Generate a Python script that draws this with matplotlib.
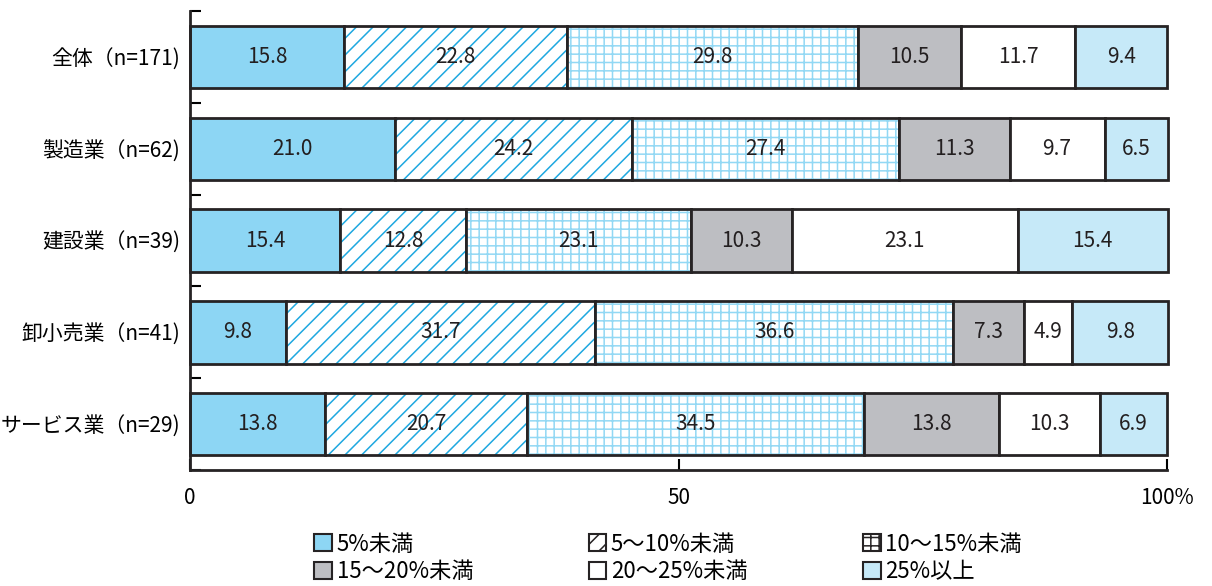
import numpy as np
import matplotlib.pyplot as plt
from matplotlib.patches import Patch

plt.rcParams['font.family'] = ['Noto Sans CJK JP', 'DejaVu Sans']
plt.rcParams['hatch.linewidth'] = 1.1

# Survey results by industry (percent)
categories = ['全体（n=171)', '製造業（n=62)', '建設業（n=39)', '卸小売業（n=41)', 'サービス業（n=29)']
series_names = ['5%未満', '5～10%未満', '10～15%未満', '15～20%未満', '20～25%未満', '25%以上']
values = np.array([
    [15.8, 22.8, 29.8, 10.5, 11.7, 9.4],
    [21.0, 24.2, 27.4, 11.3, 9.7, 6.5],
    [15.4, 12.8, 23.1, 10.3, 23.1, 15.4],
    [9.8, 31.7, 36.6, 7.3, 4.9, 9.8],
    [13.8, 20.7, 34.5, 13.8, 10.3, 6.9],
])
x_ticks = [0, 50, 100]
x_ticklabels = ['0', '50', '100%']

face_colors = ['#8dd6f4', 'white', 'white', '#bdbec2', 'white', '#c6e9f8']
hatch_colors = [None, '#1ea8e0', '#92d8f4', None, None, None]
hatches = [None, '//', '++', None, None, None]
outline = '#262324'

fig, ax = plt.subplots(figsize=(12.12, 5.86), dpi=100)
fig.subplots_adjust(left=0.1568, right=0.9629, bottom=0.198, top=0.981)

y = np.arange(len(categories))
left = np.zeros(len(categories))
handles = []
for j, name in enumerate(series_names):
    w = values[:, j]
    if hatches[j]:
        ax.barh(y, w, left=left, height=0.68, color=face_colors[j],
                edgecolor=hatch_colors[j], hatch=hatches[j], linewidth=0)
    else:
        ax.barh(y, w, left=left, height=0.68, color=face_colors[j], linewidth=0)
    ax.barh(y, w, left=left, height=0.68, fill=False, edgecolor=outline,
            linewidth=2, clip_on=False)
    for yi, (l, v) in enumerate(zip(left, w)):
        ax.text(l + v / 2, yi, f'{v:.1f}', ha='center', va='center',
                fontsize=15, color='#231f20')
    left += w
    handles.append(Patch(facecolor=face_colors[j], edgecolor=outline, linewidth=1.5,
                         hatch=hatches[j]))

ax.set_xlim(0, 100)
ax.set_ylim(len(categories) - 0.5, -0.5)
ax.set_yticks(y)
ax.set_yticklabels(categories, fontsize=15)
ax.set_yticks(np.arange(-0.5, len(categories), 1), minor=True)
ax.tick_params(axis='y', which='major', length=0, pad=7)
ax.tick_params(axis='y', which='minor', direction='in', length=8, width=1.5)
ax.set_xticks(x_ticks)
ax.set_xticklabels(x_ticklabels, fontsize=15)
ax.tick_params(axis='x', direction='in', length=8, width=1.5, pad=12)
for s in ['top', 'right']:
    ax.spines[s].set_visible(False)
for s in ['left', 'bottom']:
    ax.spines[s].set_linewidth(2)
    ax.spines[s].set_color(outline)

# legend fills row by row: reorder for column-major layout
order = [0, 3, 1, 4, 2, 5]
fig.legend([handles[i] for i in order], [series_names[i] for i in order],
           ncol=3, loc='lower left', bbox_to_anchor=(0.252, -0.01),
           frameon=False, fontsize=16, handlelength=0.8, handleheight=0.8,
           handletextpad=0.2, columnspacing=5.2, labelspacing=0.2,
           borderaxespad=0)

fig.savefig('out.png', dpi=100)
